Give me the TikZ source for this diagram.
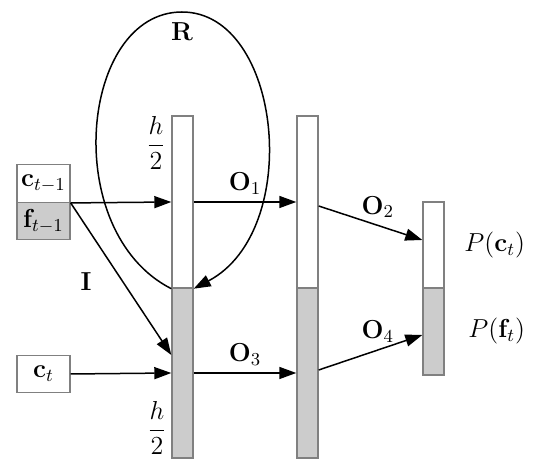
\RequirePackage{fix-cm}
\documentclass[tikz,border=0pt]{standalone}
\usetikzlibrary{arrows.meta}
\tikzset{
  cell/.style={draw=gray,line width=0.7pt,minimum width=10.5pt,inner sep=0pt},
  upper/.style={cell,fill=white},
  lower/.style={cell,fill=gray!40},
  inbox/.style={draw=gray,line width=0.7pt,minimum width=26.5pt,minimum height=18.75pt,inner sep=0pt},
}
\begin{document}
\begin{tikzpicture}[x=0.5pt,y=-0.5pt,->,>={Triangle[length=8.5pt,width=6pt]},line width=0.75pt,auto,
    font=\fontsize{13}{15}\selectfont]
  \useasboundingbox (0,0) rectangle (543,469);
  % inputs
  \node[inbox] (cp) at (43.5,183.5) {$\mathbf{c}_{t-1}$};
  \node[inbox,fill=gray!40] (fp) at (43.5,221) {$\mathbf{f}_{t-1}$};
  \node[inbox] (ct) at (43.5,374) {$\mathbf{c}_t$};
  % layers
  \node[upper,minimum height=86pt] (h1) at (182.5,202) {};
  \node[lower,minimum height=85pt] (g1) at (182.5,373) {};
  \node[upper,minimum height=86pt] (h2) at (307.5,202) {};
  \node[lower,minimum height=85pt] (g2) at (307.5,373) {};
  \node[upper,minimum height=43pt] (oc) at (433.5,245) {};
  \node[lower,minimum height=43.5pt] (of) at (433.5,331.5) {};
  % labels
  \node (ht) at (156,143) {$\displaystyle\frac{h}{2}$};
  \node (hb) at (157,428) {$\displaystyle\frac{h}{2}$};
  \node (R) at (182,32) {$\mathbf{R}$};
  \node (pc) at ([xshift=25pt]oc.east) {$P(\mathbf{c}_t)$};
  \node (pf) at ([xshift=26pt]of.east) {$P(\mathbf{f}_t)$};
  \coordinate (rtop) at (182,12);
  % connections
  \draw (cp.south east) -- (h1.west);
  \draw (cp.south east) -- node[pos=0.52,left=12pt] {$\mathbf{I}$} ([yshift=9pt]g1.west);
  \draw (ct.east) -- (g1.west);
  \draw (h1.east) -- node[above] {$\mathbf{O}_1$} (h2.west);
  \draw (g1.east) -- node[above] {$\mathbf{O}_3$} (g2.west);
  \draw ([yshift=-2pt]h2.east) -- node[above,pos=0.57] {$\mathbf{O}_2$} ([yshift=2.5pt]oc.west);
  \draw ([yshift=1.5pt]g2.east) -- node[above,pos=0.57] {$\mathbf{O}_4$} ([yshift=-1.75pt]of.west);
  \draw (h1.south west) .. controls +(-112,-57) and +(-102,0) .. (rtop)
        .. controls +(100,0) and +(110,-58) .. (h1.south east);
\end{tikzpicture}
\end{document}
